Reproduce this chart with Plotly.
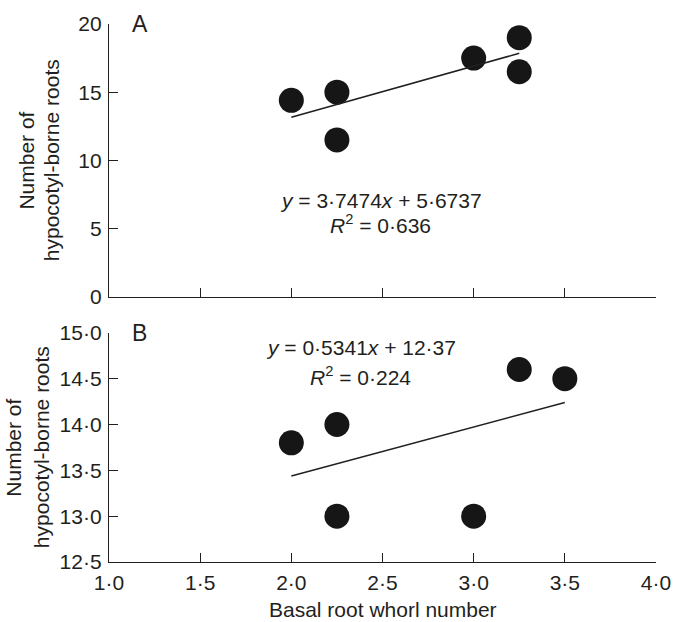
import plotly.graph_objects as go

# ---- data ----
x_ticks = [1.0, 1.5, 2.0, 2.5, 3.0, 3.5, 4.0]
x_tick_labels = ["1·0", "1·5", "2·0", "2·5", "3·0", "3·5", "4·0"]

a_x = [2.0, 2.25, 2.25, 3.0, 3.25, 3.25]
a_y = [14.4, 15.0, 11.5, 17.5, 19.0, 16.5]
a_slope, a_intercept = 3.7474, 5.6737
a_fit_x = [2.0, 3.25]
a_y_ticks = [0, 5, 10, 15, 20]
a_y_tick_labels = ["0", "5", "10", "15", "20"]

b_x = [2.0, 2.25, 2.25, 3.0, 3.25, 3.5]
b_y = [13.8, 14.0, 13.0, 13.0, 14.6, 14.5]
b_slope, b_intercept = 0.5341, 12.37
b_fit_x = [2.0, 3.5]
b_y_ticks = [12.5, 13.0, 13.5, 14.0, 14.5, 15.0]
b_y_tick_labels = ["12·5", "13·0", "13·5", "14·0", "14·5", "15·0"]

INK = "#231f20"
DOT = "#161616"
FONT = "Liberation Sans, Arial, Helvetica, sans-serif"
FS = 21

fig = go.Figure()

# panel A
fig.add_trace(go.Scatter(x=a_x, y=a_y, mode="markers", xaxis="x", yaxis="y",
                         marker=dict(size=25, color=DOT), cliponaxis=False, showlegend=False))
fig.add_trace(go.Scatter(x=a_fit_x, y=[a_slope * v + a_intercept for v in a_fit_x],
                         mode="lines", xaxis="x", yaxis="y",
                         line=dict(color=INK, width=1.5), showlegend=False))
# panel B
fig.add_trace(go.Scatter(x=b_x, y=b_y, mode="markers", xaxis="x2", yaxis="y2",
                         marker=dict(size=25, color=DOT), cliponaxis=False, showlegend=False))
fig.add_trace(go.Scatter(x=b_fit_x, y=[b_slope * v + b_intercept for v in b_fit_x],
                         mode="lines", xaxis="x2", yaxis="y2",
                         line=dict(color=INK, width=1.5), showlegend=False))

axis_common = dict(showline=True, linecolor=INK, linewidth=1.3, ticks="inside",
                   ticklen=9, tickwidth=1.3, tickcolor=INK, showgrid=False,
                   zeroline=False, mirror=False,
                   tickfont=dict(family=FONT, size=FS, color=INK))

fig.update_layout(
    width=683, height=622,
    margin=dict(l=109, r=16, t=16, b=60),
    paper_bgcolor="white", plot_bgcolor="white",
    font=dict(family=FONT, size=FS, color=INK),
    xaxis=dict(domain=[0, 1], range=[1, 4], anchor="y", tickvals=x_ticks,
               showticklabels=False, **axis_common),
    yaxis=dict(domain=[0.493, 1], range=[0, 20], anchor="x", tickvals=a_y_ticks,
               ticktext=a_y_tick_labels, ticklabelstandoff=2, **axis_common),
    xaxis2=dict(domain=[0, 1], range=[1, 4], anchor="y2", tickvals=x_ticks,
                ticktext=x_tick_labels, ticklabelstandoff=2, **axis_common),
    yaxis2=dict(domain=[0, 0.426], range=[12.5, 15], anchor="x2", tickvals=b_y_ticks,
                ticktext=b_y_tick_labels, ticklabelstandoff=2, **axis_common),
)

ann = []
# panel letters
ann.append(dict(text="A", xref="x", yref="y", x=1.172, y=20, showarrow=False,
                font=dict(size=23), xanchor="center", yanchor="middle"))
ann.append(dict(text="B", xref="x2", yref="y2", x=1.167, y=15, showarrow=False,
                font=dict(size=23), xanchor="center", yanchor="middle"))
# equations
ann.append(dict(text="<i>y</i> = 3·7474<i>x</i> + 5·6737", xref="x", yref="y",
                x=2.49, y=7.05, showarrow=False, xanchor="center", yanchor="middle"))
ann.append(dict(text="<i>R</i><sup>2</sup> = 0·636", xref="x", yref="y",
                x=2.487, y=5.35, showarrow=False, xanchor="center", yanchor="middle"))
ann.append(dict(text="<i>y</i> = 0·5341<i>x</i> + 12·37", xref="x2", yref="y2",
                x=2.38, y=14.843, showarrow=False, xanchor="center", yanchor="middle"))
ann.append(dict(text="<i>R</i><sup>2</sup> = 0·224", xref="x2", yref="y2",
                x=2.38, y=14.533, showarrow=False, xanchor="center", yanchor="middle"))
# y titles (two lines each)
for yc, x1, x2 in [(0.746, -0.150, -0.105), (0.213, -0.175, -0.123)]:
    ann.append(dict(text="Number of", xref="paper", yref="paper", x=x1, y=yc,
                    textangle=-90, showarrow=False, xanchor="center", yanchor="middle"))
    ann.append(dict(text="hypocotyl-borne roots", xref="paper", yref="paper", x=x2, y=yc,
                    textangle=-90, showarrow=False, xanchor="center", yanchor="middle"))
# x title
ann.append(dict(text="Basal root whorl number", xref="paper", yref="paper", x=0.5, y=-0.0885,
                showarrow=False, xanchor="center", yanchor="middle"))
fig.update_layout(annotations=ann)

fig.write_html("out.html", config={"displayModeBar": False},
               post_script="document.body.style.margin='0';document.body.style.overflow='hidden';")
